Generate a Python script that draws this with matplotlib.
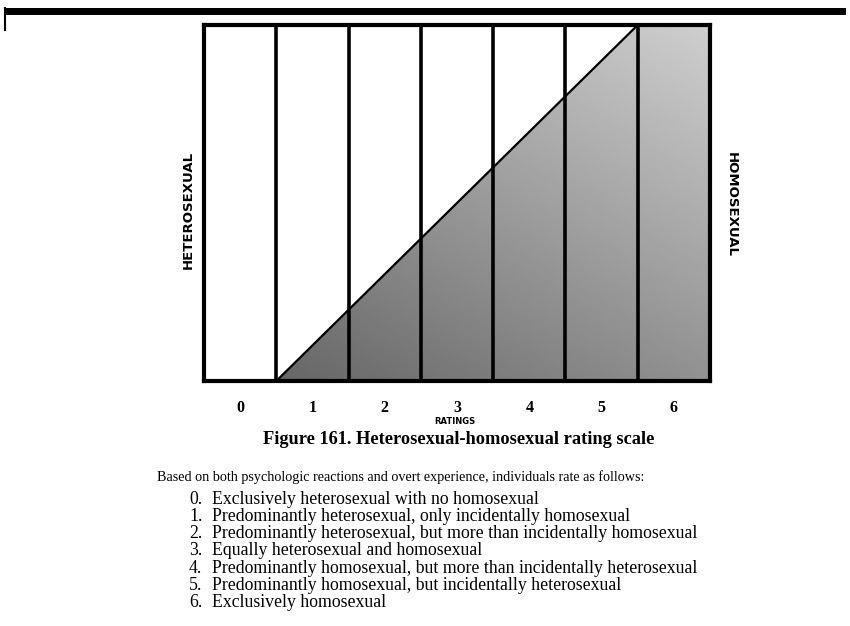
import matplotlib
matplotlib.use("Agg")
import matplotlib.pyplot as plt
import numpy as np
from matplotlib.patches import Polygon

# ---- data ----
ratings = [0, 1, 2, 3, 4, 5, 6]
rating_labels = ["0", "1", "2", "3", "4", "5", "6"]
# homosexual share along the scale boundaries (0..7)
boundary_x = [0, 1, 6, 7]
homo_share = [0.0, 0.0, 1.0, 1.0]
left_label = "HETEROSEXUAL"
right_label = "HOMOSEXUAL"
axis_title = "RATINGS"
caption = "Figure 161. Heterosexual-homosexual rating scale"
intro = "Based on both psychologic reactions and overt experience, individuals rate as follows:"
descriptions = [
    "Exclusively heterosexual with no homosexual",
    "Predominantly heterosexual, only incidentally homosexual",
    "Predominantly heterosexual, but more than incidentally homosexual",
    "Equally heterosexual and homosexual",
    "Predominantly homosexual, but more than incidentally heterosexual",
    "Predominantly homosexual, but incidentally heterosexual",
    "Exclusively homosexual",
]

W, H = 850, 626
fig = plt.figure(figsize=(W / 100, H / 100), dpi=100)
fig.patch.set_facecolor("white")

def fx(px):
    return px / W

def fy(py):
    return 1 - py / H

# page edge bar at top
fig.add_artist(plt.Rectangle((fx(4), fy(15)), fx(846) - fx(4), fy(8) - fy(15),
                             transform=fig.transFigure, color="black", lw=0))
fig.add_artist(plt.Line2D([fx(5), fx(5)], [fy(8), fy(30)], transform=fig.transFigure,
                          color="black", lw=1.5))

x0, x1, y0, y1 = 204, 710, 25, 381
ax = fig.add_axes([fx(x0), fy(y1), fx(x1) - fx(x0), fy(y0) - fy(y1)])
ax.set_xlim(0, len(ratings))
ax.set_ylim(0, 1)

# shaded (homosexual) region with a gradient fill
poly_pts = [(bx, 0) for bx in boundary_x[::-1]] + list(zip(boundary_x, homo_share))
poly = Polygon(poly_pts, closed=True, facecolor="none", edgecolor="none")
ax.add_patch(poly)
gx, gy = np.meshgrid(np.linspace(0, 7, 300), np.linspace(0, 1, 200))
shade = 0.40 + 0.17 * (gx - 1) / 6 + 0.24 * gy
im = ax.imshow(shade, extent=[0, 7, 0, 1], origin="lower", cmap="gray", vmin=0, vmax=1,
               aspect="auto", interpolation="bilinear", zorder=1)
im.set_clip_path(poly)

# diagonal line
ax.plot(boundary_x[1:3], homo_share[1:3], color="black", lw=1.6, zorder=3)

# column dividers
for b in range(1, len(ratings)):
    ax.axvline(b, color="black", lw=2.6, zorder=3)
for s in ax.spines.values():
    s.set_linewidth(3)
    s.set_zorder(4)

ax.set_xticks([r + 0.5 for r in ratings])
ax.set_xticklabels(rating_labels, fontsize=11.5, fontweight="bold", family="Liberation Serif")
ax.tick_params(axis="x", length=0, pad=14)
ax.set_yticks([])

serif = "Liberation Serif"
fig.text(fx(455), fy(421), axis_title, ha="center", va="center", fontsize=6,
         fontweight="bold", family="DejaVu Sans")
fig.text(fx(459), fy(440), caption, ha="center", va="center", fontsize=13.2,
         fontweight="bold", family=serif)
fig.text(fx(157), fy(477), intro, ha="left", va="center", fontsize=10.2, family=serif)
for i, (r, desc) in enumerate(zip(ratings, descriptions)):
    yy = 503.5 + 17.3 * i
    fig.text(fx(189), fy(yy), f"{r}.", ha="left", va="baseline", fontsize=12.8, family=serif)
    fig.text(fx(212), fy(yy), desc, ha="left", va="baseline", fontsize=12.8, family=serif)

fig.text(fx(188), fy(210), left_label, rotation=90, ha="center", va="center",
         fontsize=9.5, fontweight="bold", family="DejaVu Sans")
fig.text(fx(731), fy(205), right_label, rotation=270, ha="center", va="center",
         fontsize=9.5, fontweight="bold", family="DejaVu Sans")

fig.savefig("out.png", dpi=100, facecolor="white")
